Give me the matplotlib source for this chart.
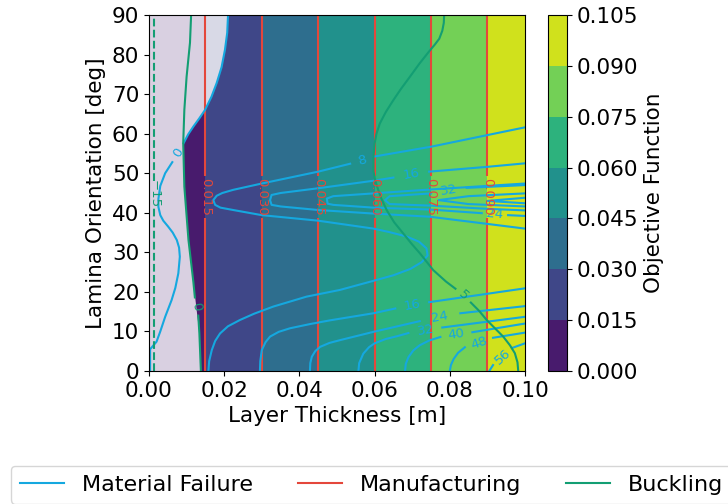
import numpy as np
import matplotlib.pyplot as plt
from matplotlib.lines import Line2D

nan = np.nan
plt.rcParams['font.size'] = 15.5

# objective function (= layer thickness) on the corners of the design space
thick = [0.0, 0.1]
angle = [0.0, 90.0]
obj_grid = [[0.0, 0.1], [0.0, 0.1]]
obj_levels = [0.0, 0.015, 0.03, 0.045, 0.06, 0.075, 0.09, 0.105]
manuf_levels = [0.015, 0.03, 0.045, 0.06, 0.075, 0.09]

# material failure contours (thickness, angle), nan marks the gap of a label
mf_0 = [(0.0003, 0.0), (0.0003, 5.5), (0.002, 7.4), (0.003, 10.0), (0.0043, 13.7), (0.006, 17.9),
        (0.007, 21.0), (0.0078, 24.7), (0.0082, 28.9), (0.008, 31.2), (0.0074, 33.1), (0.0063, 35.0),
        (0.0051, 36.5), (0.0038, 38.0), (0.003, 39.4), (0.0025, 41.5), (0.0025, 43.5), (0.003, 46.8),
        (0.0043, 50.0), (0.0062, 52.8), (nan, nan), (0.0092, 57.6), (0.0104, 59.8), (0.0118, 61.8),
        (0.0134, 63.9), (0.0149, 66.0), (0.0166, 69.3), (0.018, 72.8), (0.0193, 76.8), (0.0202, 81.2),
        (0.0208, 85.5), (0.021, 89.6), (0.0211, 90.0)]
mf_8 = [(0.0158, 0.0), (0.016, 2.5), (0.0167, 5.3), (0.0176, 7.6), (0.0189, 9.5), (0.021, 11.3),
        (0.0242, 12.9), (0.028, 14.5), (0.0331, 16.3), (0.0419, 18.8), (0.0508, 20.5), (0.0597, 22.8),
        (0.065, 24.2), (0.0695, 25.8), (0.0725, 27.5), (0.0741, 29.2), (0.0738, 31.0), (0.0718, 32.7),
        (0.0685, 34.0), (0.064, 35.1), (0.0597, 36.0), (0.045, 38.0), (0.030, 39.4), (0.0224, 40.7),
        (0.019, 41.3), (0.0176, 42.0), (0.0171, 43.2), (0.018, 44.3), (0.0195, 45.0), (0.0224, 45.8),
        (0.030, 47.4), (0.045, 50.4), (0.0535, 52.4), (nan, nan), (0.0598, 54.2), (0.075, 56.7),
        (0.0903, 59.7), (0.1, 61.6)]
mf_16a = [(0.0295, 0.0), (0.0296, 2.5), (0.030, 5.3), (0.031, 7.3), (0.0322, 8.7), (0.0345, 9.9),
          (0.0375, 10.8), (0.043, 11.9), (0.0481, 12.8), (0.0597, 14.6), (0.0655, 15.8), (nan, nan),
          (0.0745, 17.4), (0.0898, 19.5), (0.1, 20.9)]
mf_16b = [(0.1, 36.0), (0.0747, 39.0), (0.0597, 39.8), (0.045, 40.7), (0.035, 41.6), (0.0326, 42.0),
          (0.0322, 43.2), (0.0326, 44.5), (0.035, 45.0), (0.045, 46.2), (0.0597, 48.1), (0.065, 48.9),
          (nan, nan), (0.0745, 50.4), (0.0898, 51.6), (0.1, 52.5)]
mf_24a = [(0.0428, 0.0), (0.0429, 2.0), (0.0433, 3.6), (0.0442, 5.0), (0.0455, 6.1), (0.048, 7.1),
          (0.0508, 7.8), (0.0597, 9.9), (0.072, 12.6), (nan, nan), (0.0828, 14.6), (0.1, 16.4)]
mf_24b = [(0.1, 39.2), (0.0955, 39.4), (nan, nan), (0.0885, 39.9), (0.075, 40.8), (0.0597, 41.3),
          (0.049, 42.0), (0.0475, 42.3), (0.0473, 43.6), (0.049, 44.2), (0.0597, 44.9), (0.075, 45.9),
          (0.1, 47.4)]
mf_32a = [(0.0557, 0.0), (0.0559, 2.0), (0.057, 4.4), (0.0585, 6.0), (0.060, 7.0), (0.063, 8.1),
          (0.066, 8.8), (0.069, 9.6), (nan, nan), (0.078, 11.0), (0.1, 13.7)]
mf_32b = [(0.1, 40.6), (0.09, 41.0), (0.075, 41.8), (0.064, 42.2), (0.0628, 43.2), (0.064, 44.2),
          (0.075, 44.9), (nan, nan), (0.0845, 46.3), (0.1, 47.0)]
mf_40a = [(0.0681, 0.0), (0.0683, 1.8), (0.069, 3.5), (0.0703, 5.2), (0.072, 6.5), (0.0745, 7.7),
          (0.0775, 8.6), (nan, nan), (0.086, 9.8), (0.1, 12.0)]
mf_40b = [(0.1, 41.6), (0.085, 42.2), (0.077, 43.2), (0.085, 44.2), (0.1, 44.9)]
mf_48a = [(0.080, 0.0), (0.0803, 1.5), (0.081, 3.0), (0.0822, 4.6), (0.084, 6.0), (nan, nan),
          (0.0915, 8.4), (0.1, 9.7)]
mf_48b = [(0.1, 42.4), (0.09, 43.0), (0.1, 43.8)]
mf_56a = [(0.0905, 0.0), (0.0915, 1.5), (nan, nan), (0.0965, 5.8), (0.1, 7.0)]

mf_lines = [mf_0, mf_8, mf_16a, mf_16b, mf_24a, mf_24b, mf_32a, mf_32b, mf_40a, mf_40b,
            mf_48a, mf_48b, mf_56a]
mf_texts = [['0'], ['8'], ['16'], ['16'], ['24'], ['24'], ['32'], ['32'], ['40'], [], ['48'], [], ['56']]

# buckling contours
bk_m15 = [(0.0013, 0.0), (0.0013, 41.5), (nan, nan), (0.0013, 48.0), (0.0013, 90.0)]
bk_0 = [(0.0112, 90.0), (0.0109, 83.0), (0.010, 74.4), (0.0094, 66.0), (0.0091, 57.6), (0.0094, 46.6),
        (0.0105, 33.1), (0.0118, 22.5), (0.0122, 18.6), (nan, nan), (0.0131, 14.0), (0.0134, 9.5),
        (0.0138, 0.0)]
bk_5 = [(0.0785, 90.0), (0.0784, 88.0), (0.078, 86.0), (0.0772, 84.0), (0.076, 82.5), (0.0745, 80.8),
        (0.072, 77.8), (0.0694, 74.4), (0.067, 71.3), (0.065, 68.5), (0.063, 65.5), (0.0614, 62.6),
        (0.0605, 60.0), (0.060, 57.5), (0.0597, 54.2), (0.0597, 50.5), (0.0601, 48.5), (0.0606, 46.8),
        (0.0617, 43.8), (0.0632, 40.7), (0.0652, 37.6), (0.0676, 34.8), (0.0698, 32.2), (0.0721, 29.7),
        (0.0756, 25.5), (0.079, 22.6), (0.0815, 20.8), (nan, nan), (0.0856, 17.3), (0.0878, 15.2),
        (0.0898, 12.9), (0.092, 10.8), (0.0942, 8.7), (0.096, 6.5), (0.0973, 4.5), (0.098, 2.2),
        (0.0982, 0.0)]
bk_lines = [bk_m15, bk_0, bk_5]
bk_texts = [['\u221215'], ['0'], ['5']]
bk_styles = ['--', '-', '-']

# infeasible part of the design space (shaded)
infeasible = [(0.0, 0.0), (0.0138, 0.0), (0.0134, 9.5), (0.0118, 22.5), (0.0105, 33.1), (0.0094, 46.6),
              (0.0091, 57.6), (0.0104, 59.8), (0.0118, 61.8), (0.0134, 63.9), (0.0149, 66.0),
              (0.0166, 69.3), (0.018, 72.8), (0.0193, 76.8), (0.0202, 81.2), (0.0208, 85.5),
              (0.021, 89.6), (0.0211, 90.0), (0.0, 90.0)]

c_mf = '#15a8df'
c_man = '#e4473b'
c_bk = '#139e73'

fig = plt.figure(figsize=(7.28, 5.04), dpi=100)
ax = fig.add_axes([149/728, 133/504, 376/728, 356/504])
cax = fig.add_axes([548/728, 133/504, 19/728, 356/504])

cf = ax.contourf(thick, angle, obj_grid, levels=obj_levels, cmap='viridis')
ax.fill(*np.array(infeasible).T, color='white', alpha=0.8, lw=0)

cs = ax.contour(thick, angle, obj_grid, levels=manuf_levels, colors=c_man, linewidths=1.5)
ax.clabel(cs, fmt='%.3f', fontsize=9.5, inline=True, inline_spacing=2,
          manual=[(v, 44) for v in manuf_levels])

ax.set_xlim(0, 0.1)
ax.set_ylim(0, 90)


def draw(pts, texts, color, ls='-'):
    p = np.array(pts)
    ax.plot(p[:, 0], p[:, 1], color=color, lw=1.5, ls=ls)
    gaps = [i for i in range(len(p)) if np.isnan(p[i, 0])]
    for i, s in zip(gaps, texts):
        a, b = p[i - 1], p[i + 1]
        da, db = ax.transData.transform(a), ax.transData.transform(b)
        rot = np.degrees(np.arctan2(db[1] - da[1], db[0] - da[0]))
        rot = (rot + 90) % 180 - 90
        ax.text((a[0] + b[0]) / 2, (a[1] + b[1]) / 2, s, color=color, fontsize=9.5,
                rotation=rot, rotation_mode='anchor', ha='center', va='center')


for pts, texts in zip(mf_lines, mf_texts):
    draw(pts, texts, c_mf)
for pts, texts, ls in zip(bk_lines, bk_texts, bk_styles):
    draw(pts, texts, c_bk, ls)

ax.set_xticks([0.0, 0.02, 0.04, 0.06, 0.08, 0.1])
ax.set_xticklabels(['0.00', '0.02', '0.04', '0.06', '0.08', '0.10'])
ax.set_yticks(range(0, 91, 10))
ax.set_xlabel('Layer Thickness [m]')
ax.set_ylabel('Lamina Orientation [deg]')

cb = fig.colorbar(cf, cax=cax, ticks=obj_levels, format='%.3f')
cb.set_label('Objective Function')

handles = [Line2D([], [], color=c_mf, lw=1.5), Line2D([], [], color=c_man, lw=1.5),
           Line2D([], [], color=c_bk, lw=1.5)]
fig.legend(handles, ['Material Failure', 'Manufacturing', 'Buckling'], loc='upper left',
           bbox_to_anchor=(11/728, 1 - 466/504), borderaxespad=0, ncol=3, fontsize=16,
           handlelength=2.0, columnspacing=2.0)

fig.savefig('out.png', dpi=100)
